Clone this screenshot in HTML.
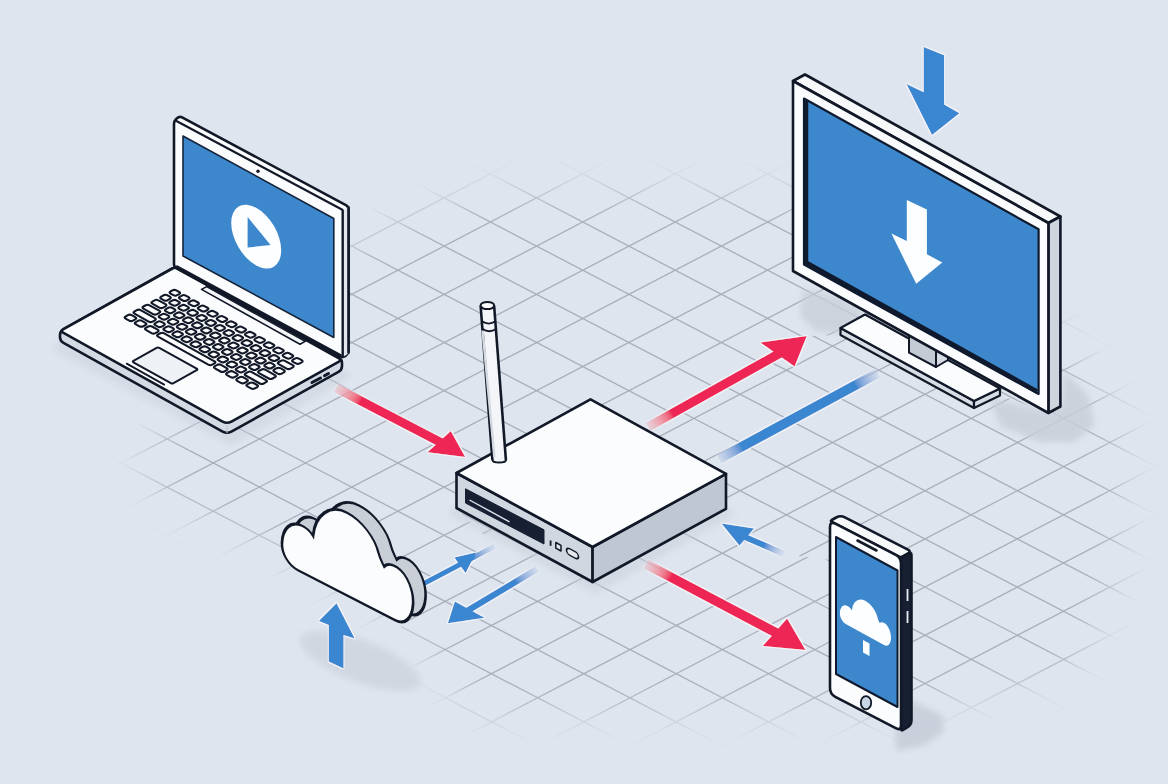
<!DOCTYPE html>
<html><head><meta charset="utf-8"><style>
html,body{margin:0;padding:0;background:#dee5ee;}
svg{display:block;}
</style></head><body>
<svg width="1168" height="784" viewBox="0 0 1168 784">
<defs>
<filter id="mblur" x="-20%" y="-20%" width="140%" height="140%"><feGaussianBlur stdDeviation="18"/></filter>
<mask id="gmask" maskUnits="userSpaceOnUse" x="0" y="0" width="1168" height="784"><rect width="1168" height="784" fill="#000"/><polygon filter="url(#mblur)" fill="#fff" points="140.0,455.0 250.0,345.0 350.0,245.0 420.0,212.0 490.0,192.0 600.0,190.0 790.0,192.0 1060.0,335.0 1125.0,420.0 1122.0,565.0 1075.0,672.0 900.0,712.0 478.0,712.0 428.0,655.0 402.0,625.0 300.0,560.0 160.0,500.0"/></mask>
<filter id="halo" x="-20%" y="-20%" width="140%" height="140%"><feMorphology in="SourceAlpha" operator="dilate" radius="1.3" result="d"/><feGaussianBlur in="d" stdDeviation="0.7" result="b"/><feFlood flood-color="#f6f8fc" flood-opacity="0.85"/><feComposite in2="b" operator="in" result="h"/><feMerge><feMergeNode in="h"/><feMergeNode in="SourceGraphic"/></feMerge></filter>
<filter id="blur6" x="-50%" y="-50%" width="200%" height="200%"><feGaussianBlur stdDeviation="6"/></filter>
<filter id="blur3" x="-50%" y="-50%" width="200%" height="200%"><feGaussianBlur stdDeviation="3"/></filter>
<filter id="blur1" x="-50%" y="-50%" width="200%" height="200%"><feGaussianBlur stdDeviation="1"/></filter>
</defs>
<rect width="1168" height="784" fill="#dee5ee"/>
<clipPath id="cpL"><path clip-rule="evenodd" d="M0,0H1168V784H0ZM646,428L778,354.5L807,336L840,335L974,408L1000,395L1048,413L1060,300L1168,300L1168,784L900,784L900,731L830,694L830,560L783,554L722,525L726,509L726,474ZM456,508L592,582L726,509L722,525L783,554L830,560L830,694L900,731L900,784L190,784L330,690L404,624L423,584L495,546Z"/></clipPath><clipPath id="cpR"><path d="M646,428L778,354.5L807,336L840,335L974,408L1000,395L1048,413L1060,300L1168,300L1168,784L900,784L900,731L830,694L830,560L783,554L722,525L726,509L726,474Z"/></clipPath><clipPath id="cpD"><path d="M456,508L592,582L726,509L722,525L783,554L830,560L830,694L900,731L900,784L190,784L330,690L404,624L423,584L495,546Z"/></clipPath><g mask="url(#gmask)" stroke="#a8aeba" stroke-width="1.3" fill="none"><path clip-path="url(#cpL)" d="M-10,587.6L1178,1207.3M-10,539.4L1178,1159.1M-10,491.2L1178,1110.9M-10,443.0L1178,1062.7M-10,394.8L1178,1014.5M-10,346.6L1178,966.3M-10,298.4L1178,918.1M-10,250.2L1178,869.9M-10,202.0L1178,821.7M-10,153.8L1178,773.5M-10,105.6L1178,725.3M-10,57.4L1178,677.1M-10,9.2L1178,628.9M-10,-39.0L1178,580.7M-10,-87.2L1178,532.5M-10,-135.4L1178,484.3M-10,-183.6L1178,436.1M-10,-231.8L1178,387.9M-10,-280.0L1178,339.7M-10,-328.2L1178,291.5M-10,-376.4L1178,243.3M-10,-424.6L1178,195.1M-10,-472.8L1178,146.9M-10,-521.0L1178,98.7M-10,-569.2L1178,50.5M-10,-617.4L1178,2.3M-10,1.0L1178,-618.7M-10,49.2L1178,-570.5M-10,97.4L1178,-522.3M-10,145.6L1178,-474.1M-10,193.8L1178,-425.9M-10,242.0L1178,-377.7M-10,290.2L1178,-329.5M-10,338.4L1178,-281.3M-10,386.6L1178,-233.1M-10,434.8L1178,-184.9M-10,483.0L1178,-136.7M-10,531.2L1178,-88.5M-10,579.4L1178,-40.3M-10,627.6L1178,7.9M-10,675.8L1178,56.1M-10,724.0L1178,104.3M-10,772.2L1178,152.5M-10,820.4L1178,200.7M-10,868.6L1178,248.9M-10,916.8L1178,297.1M-10,965.0L1178,345.3M-10,1013.2L1178,393.5M-10,1061.4L1178,441.7M-10,1109.6L1178,489.9M-10,1157.8L1178,538.1M-10,1206.0L1178,586.3M-10,1254.2L1178,634.5M-10,1302.4L1178,682.7M-10,1350.6L1178,730.9M-10,1398.8L1178,779.1"/><path clip-path="url(#cpR)" d="M-10,581.4L1178,1201.1M-10,533.2L1178,1152.9M-10,485.0L1178,1104.7M-10,436.8L1178,1056.5M-10,388.6L1178,1008.3M-10,340.4L1178,960.1M-10,292.2L1178,911.9M-10,244.0L1178,863.7M-10,195.8L1178,815.5M-10,147.6L1178,767.3M-10,99.4L1178,719.1M-10,51.2L1178,670.9M-10,3.0L1178,622.7M-10,-45.2L1178,574.5M-10,-93.4L1178,526.3M-10,-141.6L1178,478.1M-10,-189.8L1178,429.9M-10,-238.0L1178,381.7M-10,-286.2L1178,333.5M-10,-334.4L1178,285.3M-10,-382.6L1178,237.1M-10,-430.8L1178,188.9M-10,-479.0L1178,140.7M-10,-527.2L1178,92.5M-10,-575.4L1178,44.3M-10,14.4L1178,-605.3M-10,62.6L1178,-557.1M-10,110.8L1178,-508.9M-10,159.0L1178,-460.7M-10,207.2L1178,-412.5M-10,255.4L1178,-364.3M-10,303.6L1178,-316.1M-10,351.8L1178,-267.9M-10,400.0L1178,-219.7M-10,448.2L1178,-171.5M-10,496.4L1178,-123.3M-10,544.6L1178,-75.1M-10,592.8L1178,-26.9M-10,641.0L1178,21.3M-10,689.2L1178,69.5M-10,737.4L1178,117.7M-10,785.6L1178,165.9M-10,833.8L1178,214.1M-10,882.0L1178,262.3M-10,930.2L1178,310.5M-10,978.4L1178,358.7M-10,1026.6L1178,406.9M-10,1074.8L1178,455.1M-10,1123.0L1178,503.3M-10,1171.2L1178,551.5M-10,1219.4L1178,599.7M-10,1267.6L1178,647.9M-10,1315.8L1178,696.1M-10,1364.0L1178,744.3"/><path clip-path="url(#cpD)" d="M-10,604.9L1178,1224.7M-10,556.7L1178,1176.5M-10,508.5L1178,1128.3M-10,460.3L1178,1080.1M-10,412.1L1178,1031.9M-10,363.9L1178,983.7M-10,315.7L1178,935.5M-10,267.5L1178,887.3M-10,219.3L1178,839.1M-10,171.1L1178,790.9M-10,122.9L1178,742.7M-10,74.7L1178,694.5M-10,26.5L1178,646.3M-10,-21.7L1178,598.1M-10,-69.9L1178,549.9M-10,-118.1L1178,501.7M-10,-166.3L1178,453.5M-10,-214.5L1178,405.3M-10,-262.7L1178,357.1M-10,-310.9L1178,308.9M-10,-359.1L1178,260.7M-10,-407.3L1178,212.5M-10,-455.5L1178,164.3M-10,-503.7L1178,116.1M-10,-551.9L1178,67.9M-10,-600.1L1178,19.7M-10,19.5L1178,-600.3M-10,67.7L1178,-552.1M-10,115.9L1178,-503.9M-10,164.1L1178,-455.7M-10,212.3L1178,-407.5M-10,260.5L1178,-359.3M-10,308.7L1178,-311.1M-10,356.9L1178,-262.9M-10,405.1L1178,-214.7M-10,453.3L1178,-166.5M-10,501.5L1178,-118.3M-10,549.7L1178,-70.1M-10,597.9L1178,-21.9M-10,646.1L1178,26.3M-10,694.3L1178,74.5M-10,742.5L1178,122.7M-10,790.7L1178,170.9M-10,838.9L1178,219.1M-10,887.1L1178,267.3M-10,935.3L1178,315.5M-10,983.5L1178,363.7M-10,1031.7L1178,411.9M-10,1079.9L1178,460.1M-10,1128.1L1178,508.3M-10,1176.3L1178,556.5M-10,1224.5L1178,604.7M-10,1272.7L1178,652.9M-10,1320.9L1178,701.1M-10,1369.1L1178,749.3"/></g>

<g fill="#c9cfda">
<polygon points="803.0,290.0 836.0,296.0 864.0,312.0 842.0,334.0 815.0,331.0 800.0,316.0" fill="#c9cfda" stroke="none" stroke-width="0" stroke-linejoin="round" opacity="0.8" filter="url(#blur3)"/>
<polygon points="990.0,398.0 1050.0,412.0 1062.0,405.0 1064.0,372.0 1088.0,395.0 1094.0,425.0 1075.0,442.0 1040.0,442.0 1000.0,426.0" fill="#c9cfda" stroke="none" stroke-width="0" stroke-linejoin="round" opacity="0.85" filter="url(#blur3)"/>
<ellipse cx="360" cy="661" rx="64" ry="21" transform="rotate(21 360 661)" opacity="0.62" filter="url(#blur3)"/>
<polygon points="910.0,700.0 943.0,716.0 943.0,732.0 925.0,745.0 897.0,751.0 895.0,734.0" fill="#c9cfda" stroke="none" stroke-width="0" stroke-linejoin="round" opacity="0.95" filter="url(#blur3)"/>
<polygon points="456.0,506.0 592.0,580.0 726.0,507.0 736.0,514.0 596.0,594.0 448.0,514.0" fill="#c9cfda" stroke="none" stroke-width="0" stroke-linejoin="round" opacity="0.5" filter="url(#blur3)"/>
<polygon points="60.0,339.0 227.0,432.0 342.0,368.0 352.0,376.0 232.0,446.0 52.0,350.0" fill="#c9cfda" stroke="none" stroke-width="0" stroke-linejoin="round" opacity="0.45" filter="url(#blur3)"/>
</g>
<g filter="url(#halo)">
<linearGradient id="ra1" gradientUnits="userSpaceOnUse" x1="336.0" y1="388.0" x2="360.8" y2="400.9"><stop offset="0" stop-color="#ee2656" stop-opacity="0.2"/><stop offset="1" stop-color="#ee2656"/></linearGradient><polygon points="333.9,392.1 439.7,447.1 443.9,438.9 338.1,383.9" fill="url(#ra1)" stroke="none" stroke-width="0" stroke-linejoin="round" /><polygon points="450.8,431.0 465.2,457.0 427.5,452.2" fill="#ee2656" stroke="none" stroke-width="0" stroke-linejoin="round" />
<linearGradient id="ra2" gradientUnits="userSpaceOnUse" x1="648.0" y1="427.0" x2="672.4" y2="413.3"><stop offset="0" stop-color="#ee2656" stop-opacity="0.2"/><stop offset="1" stop-color="#ee2656"/></linearGradient><polygon points="650.2,431.0 782.3,357.2 777.8,349.1 645.8,423.0" fill="url(#ra2)" stroke="none" stroke-width="0" stroke-linejoin="round" /><polygon points="760.3,342.6 806.8,336.0 794.6,366.6" fill="#ee2656" stroke="none" stroke-width="0" stroke-linejoin="round" />
<linearGradient id="bl1" gradientUnits="userSpaceOnUse" x1="878.0" y1="373.0" x2="719.0" y2="459.0"><stop offset="0" stop-color="#3b86d0" stop-opacity="0.15"/><stop offset="0.144" stop-color="#3b86d0"/><stop offset="0.856" stop-color="#3b86d0"/><stop offset="1" stop-color="#3b86d0" stop-opacity="0.2"/></linearGradient><polygon points="875.7,368.7 716.7,454.7 721.3,463.3 880.3,377.3" fill="url(#bl1)" stroke="none" stroke-width="0" stroke-linejoin="round" />
<linearGradient id="ra3" gradientUnits="userSpaceOnUse" x1="646.0" y1="564.0" x2="670.8" y2="577.1"><stop offset="0" stop-color="#ee2656" stop-opacity="0.2"/><stop offset="1" stop-color="#ee2656"/></linearGradient><polygon points="643.8,568.2 775.3,637.8 779.8,629.3 648.2,559.8" fill="url(#ra3)" stroke="none" stroke-width="0" stroke-linejoin="round" /><polygon points="787.1,618.4 805.5,650.0 762.7,645.9" fill="#ee2656" stroke="none" stroke-width="0" stroke-linejoin="round" />
<linearGradient id="bl2" gradientUnits="userSpaceOnUse" x1="784.0" y1="554.0" x2="738.0" y2="534.0"><stop offset="0" stop-color="#3b86d0" stop-opacity="0.1"/><stop offset="0.439" stop-color="#3b86d0"/><stop offset="0.561" stop-color="#3b86d0"/><stop offset="1" stop-color="#3b86d0" stop-opacity="1"/></linearGradient><polygon points="785.2,551.2 739.2,531.2 736.8,536.8 782.8,556.8" fill="url(#bl2)" stroke="none" stroke-width="0" stroke-linejoin="round" />
<polygon points="721.5,523.5 754.0,528.5 739.5,545.5" fill="#3b86d0" stroke="none" stroke-width="0" stroke-linejoin="round" />
<linearGradient id="bl3" gradientUnits="userSpaceOnUse" x1="423.0" y1="584.0" x2="495.0" y2="546.0"><stop offset="0" stop-color="#3b86d0" stop-opacity="1"/><stop offset="0.307" stop-color="#3b86d0"/><stop offset="0.693" stop-color="#3b86d0"/><stop offset="1" stop-color="#3b86d0" stop-opacity="0.1"/></linearGradient><polygon points="424.2,586.2 496.2,548.2 493.8,543.8 421.8,581.8" fill="url(#bl3)" stroke="none" stroke-width="0" stroke-linejoin="round" />
<polygon points="454.4,557.5 476.0,552.5 465.6,573.0" fill="#3b86d0" stroke="none" stroke-width="0" stroke-linejoin="round" />
<linearGradient id="bl4" gradientUnits="userSpaceOnUse" x1="537.0" y1="569.0" x2="467.0" y2="611.0"><stop offset="0" stop-color="#3b86d0" stop-opacity="0.15"/><stop offset="0.306" stop-color="#3b86d0"/><stop offset="0.694" stop-color="#3b86d0"/><stop offset="1" stop-color="#3b86d0" stop-opacity="1"/></linearGradient><polygon points="535.4,566.3 465.4,608.3 468.6,613.7 538.6,571.7" fill="url(#bl4)" stroke="none" stroke-width="0" stroke-linejoin="round" />
<polygon points="454.9,601.6 447.9,623.3 484.4,617.7" fill="#3b86d0" stroke="none" stroke-width="0" stroke-linejoin="round" />
</g>
<path d="M172.4,268.5L63.5,329.1Q60.0,331.0 60.0,335.0L60.0,337.0Q60.0,341.0 63.5,342.9L222.6,431.6Q227.0,434.0 231.4,431.6L338.5,371.9Q342.0,370.0 342.0,366.0L342.0,363.0Q342.0,360.0 339.4,358.5L177.6,268.5Q175.0,267.0 172.4,268.5Z" fill="#d3dae4" stroke="#111827" stroke-width="2.6" stroke-linejoin="round" /><line x1="227" y1="426" x2="227" y2="433" stroke="#b9c2ce" stroke-width="1"/><path d="M172.4,268.5L63.5,329.1Q60.0,331.0 63.5,332.9L222.6,421.6Q227.0,424.0 231.4,421.6L338.5,361.9Q342.0,360.0 338.5,358.1L177.6,268.5Q175.0,267.0 172.4,268.5Z" fill="#fbfcfd" stroke="#111827" stroke-width="2.6" stroke-linejoin="round" /><path d="M176.3,290.4L179.2,292.0Q181.1,293.1 179.2,294.1L177.2,295.2Q175.3,296.3 173.4,295.2L170.5,293.6Q168.6,292.5 170.5,291.5L172.4,290.4Q174.4,289.3 176.3,290.4Z" fill="#fdfdfe" stroke="#111827" stroke-width="2.1" stroke-linejoin="round" /><path d="M185.7,295.6L188.6,297.2Q190.5,298.3 188.6,299.4L186.7,300.5Q184.7,301.5 182.8,300.5L179.9,298.8Q178.0,297.8 179.9,296.7L181.9,295.6Q183.8,294.5 185.7,295.6Z" fill="#fdfdfe" stroke="#111827" stroke-width="2.1" stroke-linejoin="round" /><path d="M195.1,300.9L198.0,302.5Q199.9,303.6 198.0,304.6L196.1,305.7Q194.2,306.8 192.2,305.7L189.3,304.1Q187.4,303.0 189.3,302.0L191.3,300.9Q193.2,299.8 195.1,300.9Z" fill="#fdfdfe" stroke="#111827" stroke-width="2.1" stroke-linejoin="round" /><path d="M204.5,306.1L207.5,307.7Q209.4,308.8 207.5,309.9L205.5,311.0Q203.6,312.0 201.7,311.0L198.8,309.3Q196.8,308.3 198.8,307.2L200.7,306.1Q202.6,305.0 204.5,306.1Z" fill="#fdfdfe" stroke="#111827" stroke-width="2.1" stroke-linejoin="round" /><path d="M214.0,311.4L216.9,313.0Q218.8,314.1 216.9,315.1L214.9,316.2Q213.0,317.3 211.1,316.2L208.2,314.6Q206.3,313.5 208.2,312.4L210.1,311.4Q212.0,310.3 214.0,311.4Z" fill="#fdfdfe" stroke="#111827" stroke-width="2.1" stroke-linejoin="round" /><path d="M223.4,316.6L226.3,318.2Q228.2,319.3 226.3,320.4L224.3,321.5Q222.4,322.5 220.5,321.5L217.6,319.8Q215.7,318.8 217.6,317.7L219.5,316.6Q221.5,315.5 223.4,316.6Z" fill="#fdfdfe" stroke="#111827" stroke-width="2.1" stroke-linejoin="round" /><path d="M232.8,321.9L235.7,323.5Q237.6,324.5 235.7,325.6L233.8,326.7Q231.9,327.8 229.9,326.7L227.0,325.1Q225.1,324.0 227.0,322.9L229.0,321.9Q230.9,320.8 232.8,321.9Z" fill="#fdfdfe" stroke="#111827" stroke-width="2.1" stroke-linejoin="round" /><path d="M242.2,327.1L245.1,328.7Q247.1,329.8 245.1,330.9L243.2,332.0Q241.3,333.0 239.4,332.0L236.4,330.3Q234.5,329.3 236.4,328.2L238.4,327.1Q240.3,326.0 242.2,327.1Z" fill="#fdfdfe" stroke="#111827" stroke-width="2.1" stroke-linejoin="round" /><path d="M251.7,332.4L254.6,334.0Q256.5,335.0 254.6,336.1L252.6,337.2Q250.7,338.3 248.8,337.2L245.9,335.6Q243.9,334.5 245.9,333.4L247.8,332.4Q249.7,331.3 251.7,332.4Z" fill="#fdfdfe" stroke="#111827" stroke-width="2.1" stroke-linejoin="round" /><path d="M261.1,337.6L264.0,339.2Q265.9,340.3 264.0,341.4L262.0,342.4Q260.1,343.5 258.2,342.4L255.3,340.8Q253.4,339.8 255.3,338.7L257.2,337.6Q259.2,336.5 261.1,337.6Z" fill="#fdfdfe" stroke="#111827" stroke-width="2.1" stroke-linejoin="round" /><path d="M270.5,342.9L273.4,344.5Q275.3,345.5 273.4,346.6L271.5,347.7Q269.5,348.8 267.6,347.7L264.7,346.1Q262.8,345.0 264.7,343.9L266.7,342.9Q268.6,341.8 270.5,342.9Z" fill="#fdfdfe" stroke="#111827" stroke-width="2.1" stroke-linejoin="round" /><path d="M279.9,348.1L282.8,349.7Q284.8,350.8 282.8,351.9L280.9,352.9Q279.0,354.0 277.0,352.9L274.1,351.3Q272.2,350.3 274.1,349.2L276.1,348.1Q278.0,347.0 279.9,348.1Z" fill="#fdfdfe" stroke="#111827" stroke-width="2.1" stroke-linejoin="round" /><path d="M289.4,353.3L292.3,355.0Q294.2,356.0 292.3,357.1L290.3,358.2Q288.4,359.3 286.5,358.2L283.6,356.6Q281.6,355.5 283.6,354.4L285.5,353.3Q287.4,352.3 289.4,353.3Z" fill="#fdfdfe" stroke="#111827" stroke-width="2.1" stroke-linejoin="round" /><path d="M298.8,358.6L301.7,360.2Q303.6,361.3 301.7,362.4L299.7,363.4Q297.8,364.5 295.9,363.4L293.0,361.8Q291.1,360.7 293.0,359.7L294.9,358.6Q296.9,357.5 298.8,358.6Z" fill="#fdfdfe" stroke="#111827" stroke-width="2.1" stroke-linejoin="round" /><path d="M167.4,295.3L169.9,296.7Q171.8,297.8 169.9,298.9L167.6,300.2Q165.7,301.2 163.7,300.2L161.2,298.8Q159.3,297.7 161.2,296.6L163.5,295.3Q165.4,294.3 167.4,295.3Z" fill="#fdfdfe" stroke="#111827" stroke-width="2.1" stroke-linejoin="round" /><path d="M176.4,300.4L178.9,301.8Q180.8,302.8 178.9,303.9L176.6,305.2Q174.7,306.3 172.8,305.2L170.2,303.8Q168.3,302.7 170.2,301.6L172.6,300.4Q174.5,299.3 176.4,300.4Z" fill="#fdfdfe" stroke="#111827" stroke-width="2.1" stroke-linejoin="round" /><path d="M185.4,305.4L188.0,306.8Q189.9,307.9 188.0,308.9L185.6,310.2Q183.7,311.3 181.8,310.2L179.3,308.8Q177.4,307.8 179.3,306.7L181.6,305.4Q183.5,304.3 185.4,305.4Z" fill="#fdfdfe" stroke="#111827" stroke-width="2.1" stroke-linejoin="round" /><path d="M194.5,310.4L197.0,311.8Q198.9,312.9 197.0,314.0L194.7,315.3Q192.8,316.3 190.8,315.3L188.3,313.9Q186.4,312.8 188.3,311.7L190.6,310.4Q192.5,309.4 194.5,310.4Z" fill="#fdfdfe" stroke="#111827" stroke-width="2.1" stroke-linejoin="round" /><path d="M203.5,315.5L206.0,316.9Q207.9,317.9 206.0,319.0L203.7,320.3Q201.8,321.4 199.9,320.3L197.4,318.9Q195.4,317.8 197.4,316.7L199.7,315.5Q201.6,314.4 203.5,315.5Z" fill="#fdfdfe" stroke="#111827" stroke-width="2.1" stroke-linejoin="round" /><path d="M212.5,320.5L215.1,321.9Q217.0,323.0 215.1,324.0L212.8,325.3Q210.8,326.4 208.9,325.3L206.4,323.9Q204.5,322.8 206.4,321.8L208.7,320.5Q210.6,319.4 212.5,320.5Z" fill="#fdfdfe" stroke="#111827" stroke-width="2.1" stroke-linejoin="round" /><path d="M221.6,325.5L224.1,326.9Q226.0,328.0 224.1,329.1L221.8,330.4Q219.9,331.4 217.9,330.4L215.4,328.9Q213.5,327.9 215.4,326.8L217.7,325.5Q219.7,324.5 221.6,325.5Z" fill="#fdfdfe" stroke="#111827" stroke-width="2.1" stroke-linejoin="round" /><path d="M230.6,330.6L233.1,332.0Q235.1,333.0 233.1,334.1L230.8,335.4Q228.9,336.5 227.0,335.4L224.5,334.0Q222.5,332.9 224.5,331.8L226.8,330.6Q228.7,329.5 230.6,330.6Z" fill="#fdfdfe" stroke="#111827" stroke-width="2.1" stroke-linejoin="round" /><path d="M239.7,335.6L242.2,337.0Q244.1,338.1 242.2,339.1L239.9,340.4Q237.9,341.5 236.0,340.4L233.5,339.0Q231.6,337.9 233.5,336.9L235.8,335.6Q237.7,334.5 239.7,335.6Z" fill="#fdfdfe" stroke="#111827" stroke-width="2.1" stroke-linejoin="round" /><path d="M248.7,340.6L251.2,342.0Q253.1,343.1 251.2,344.2L248.9,345.5Q247.0,346.5 245.1,345.4L242.5,344.0Q240.6,343.0 242.5,341.9L244.8,340.6Q246.8,339.6 248.7,340.6Z" fill="#fdfdfe" stroke="#111827" stroke-width="2.1" stroke-linejoin="round" /><path d="M257.7,345.7L260.2,347.1Q262.2,348.1 260.2,349.2L257.9,350.5Q256.0,351.6 254.1,350.5L251.6,349.1Q249.6,348.0 251.6,346.9L253.9,345.7Q255.8,344.6 257.7,345.7Z" fill="#fdfdfe" stroke="#111827" stroke-width="2.1" stroke-linejoin="round" /><path d="M266.8,350.7L269.3,352.1Q271.2,353.2 269.3,354.2L267.0,355.5Q265.0,356.6 263.1,355.5L260.6,354.1Q258.7,353.0 260.6,352.0L262.9,350.7Q264.8,349.6 266.8,350.7Z" fill="#fdfdfe" stroke="#111827" stroke-width="2.1" stroke-linejoin="round" /><path d="M275.8,355.7L278.3,357.1Q280.2,358.2 278.3,359.3L276.0,360.5Q274.1,361.6 272.2,360.5L269.6,359.1Q267.7,358.1 269.6,357.0L272.0,355.7Q273.9,354.6 275.8,355.7Z" fill="#fdfdfe" stroke="#111827" stroke-width="2.1" stroke-linejoin="round" /><path d="M284.8,360.8L292.8,365.2Q294.7,366.2 292.8,367.3L290.5,368.6Q288.5,369.7 286.6,368.6L278.7,364.2Q276.8,363.1 278.7,362.0L281.0,360.8Q282.9,359.7 284.8,360.8Z" fill="#fdfdfe" stroke="#111827" stroke-width="2.1" stroke-linejoin="round" /><path d="M158.4,300.3L165.5,304.2Q167.4,305.3 165.5,306.4L163.2,307.6Q161.3,308.7 159.3,307.6L152.3,303.7Q150.4,302.6 152.3,301.6L154.6,300.3Q156.5,299.2 158.4,300.3Z" fill="#fdfdfe" stroke="#111827" stroke-width="2.1" stroke-linejoin="round" /><path d="M172.0,307.8L174.5,309.2Q176.4,310.3 174.5,311.4L172.2,312.7Q170.3,313.7 168.4,312.7L165.9,311.3Q163.9,310.2 165.9,309.1L168.2,307.8Q170.1,306.8 172.0,307.8Z" fill="#fdfdfe" stroke="#111827" stroke-width="2.1" stroke-linejoin="round" /><path d="M181.0,312.9L183.6,314.3Q185.5,315.3 183.6,316.4L181.3,317.7Q179.3,318.8 177.4,317.7L174.9,316.3Q173.0,315.2 174.9,314.2L177.2,312.9Q179.1,311.8 181.0,312.9Z" fill="#fdfdfe" stroke="#111827" stroke-width="2.1" stroke-linejoin="round" /><path d="M190.1,317.9L192.6,319.3Q194.5,320.4 192.6,321.4L190.3,322.7Q188.4,323.8 186.4,322.7L183.9,321.3Q182.0,320.3 183.9,319.2L186.2,317.9Q188.2,316.8 190.1,317.9Z" fill="#fdfdfe" stroke="#111827" stroke-width="2.1" stroke-linejoin="round" /><path d="M199.1,322.9L201.6,324.3Q203.6,325.4 201.6,326.5L199.3,327.8Q197.4,328.8 195.5,327.8L193.0,326.4Q191.0,325.3 193.0,324.2L195.3,322.9Q197.2,321.9 199.1,322.9Z" fill="#fdfdfe" stroke="#111827" stroke-width="2.1" stroke-linejoin="round" /><path d="M208.1,328.0L210.7,329.4Q212.6,330.4 210.7,331.5L208.4,332.8Q206.4,333.9 204.5,332.8L202.0,331.4Q200.1,330.3 202.0,329.3L204.3,328.0Q206.2,326.9 208.1,328.0Z" fill="#fdfdfe" stroke="#111827" stroke-width="2.1" stroke-linejoin="round" /><path d="M217.2,333.0L219.7,334.4Q221.6,335.5 219.7,336.5L217.4,337.8Q215.5,338.9 213.6,337.8L211.0,336.4Q209.1,335.4 211.0,334.3L213.3,333.0Q215.3,331.9 217.2,333.0Z" fill="#fdfdfe" stroke="#111827" stroke-width="2.1" stroke-linejoin="round" /><path d="M226.2,338.0L228.7,339.4Q230.7,340.5 228.7,341.6L226.4,342.9Q224.5,343.9 222.6,342.9L220.1,341.5Q218.1,340.4 220.1,339.3L222.4,338.0Q224.3,337.0 226.2,338.0Z" fill="#fdfdfe" stroke="#111827" stroke-width="2.1" stroke-linejoin="round" /><path d="M235.3,343.1L237.8,344.5Q239.7,345.5 237.8,346.6L235.5,347.9Q233.5,349.0 231.6,347.9L229.1,346.5Q227.2,345.4 229.1,344.3L231.4,343.1Q233.3,342.0 235.3,343.1Z" fill="#fdfdfe" stroke="#111827" stroke-width="2.1" stroke-linejoin="round" /><path d="M244.3,348.1L246.8,349.5Q248.7,350.6 246.8,351.6L244.5,352.9Q242.6,354.0 240.7,352.9L238.1,351.5Q236.2,350.5 238.1,349.4L240.4,348.1Q242.4,347.0 244.3,348.1Z" fill="#fdfdfe" stroke="#111827" stroke-width="2.1" stroke-linejoin="round" /><path d="M253.3,353.1L255.8,354.5Q257.8,355.6 255.8,356.7L253.5,358.0Q251.6,359.0 249.7,358.0L247.2,356.6Q245.3,355.5 247.2,354.4L249.5,353.1Q251.4,352.1 253.3,353.1Z" fill="#fdfdfe" stroke="#111827" stroke-width="2.1" stroke-linejoin="round" /><path d="M262.4,358.2L264.9,359.6Q266.8,360.6 264.9,361.7L262.6,363.0Q260.7,364.1 258.7,363.0L256.2,361.6Q254.3,360.5 256.2,359.4L258.5,358.2Q260.4,357.1 262.4,358.2Z" fill="#fdfdfe" stroke="#111827" stroke-width="2.1" stroke-linejoin="round" /><path d="M271.4,363.2L273.9,364.6Q275.8,365.7 273.9,366.7L271.6,368.0Q269.7,369.1 267.8,368.0L265.2,366.6Q263.3,365.5 265.2,364.5L267.6,363.2Q269.5,362.1 271.4,363.2Z" fill="#fdfdfe" stroke="#111827" stroke-width="2.1" stroke-linejoin="round" /><path d="M280.4,368.2L283.9,370.1Q285.8,371.2 283.9,372.3L281.6,373.6Q279.6,374.6 277.7,373.6L274.3,371.7Q272.4,370.6 274.3,369.5L276.6,368.2Q278.5,367.2 280.4,368.2Z" fill="#fdfdfe" stroke="#111827" stroke-width="2.1" stroke-linejoin="round" /><path d="M149.5,305.3L159.3,310.7Q161.2,311.8 159.3,312.8L157.0,314.1Q155.1,315.2 153.1,314.1L143.4,308.7Q141.5,307.6 143.4,306.5L145.7,305.3Q147.6,304.2 149.5,305.3Z" fill="#fdfdfe" stroke="#111827" stroke-width="2.1" stroke-linejoin="round" /><path d="M165.8,314.3L168.3,315.7Q170.2,316.8 168.3,317.9L166.0,319.1Q164.1,320.2 162.2,319.1L159.6,317.7Q157.7,316.7 159.6,315.6L162.0,314.3Q163.9,313.2 165.8,314.3Z" fill="#fdfdfe" stroke="#111827" stroke-width="2.1" stroke-linejoin="round" /><path d="M174.8,319.3L177.4,320.7Q179.3,321.8 177.4,322.9L175.0,324.2Q173.1,325.2 171.2,324.2L168.7,322.8Q166.8,321.7 168.7,320.6L171.0,319.3Q172.9,318.3 174.8,319.3Z" fill="#fdfdfe" stroke="#111827" stroke-width="2.1" stroke-linejoin="round" /><path d="M183.9,324.4L186.4,325.8Q188.3,326.8 186.4,327.9L184.1,329.2Q182.2,330.3 180.2,329.2L177.7,327.8Q175.8,326.7 177.7,325.7L180.0,324.4Q182.0,323.3 183.9,324.4Z" fill="#fdfdfe" stroke="#111827" stroke-width="2.1" stroke-linejoin="round" /><path d="M192.9,329.4L195.4,330.8Q197.4,331.9 195.4,333.0L193.1,334.2Q191.2,335.3 189.3,334.2L186.8,332.8Q184.8,331.8 186.8,330.7L189.1,329.4Q191.0,328.3 192.9,329.4Z" fill="#fdfdfe" stroke="#111827" stroke-width="2.1" stroke-linejoin="round" /><path d="M201.9,334.4L204.5,335.8Q206.4,336.9 204.5,338.0L202.2,339.3Q200.2,340.3 198.3,339.3L195.8,337.9Q193.9,336.8 195.8,335.7L198.1,334.4Q200.0,333.4 201.9,334.4Z" fill="#fdfdfe" stroke="#111827" stroke-width="2.1" stroke-linejoin="round" /><path d="M211.0,339.5L213.5,340.9Q215.4,341.9 213.5,343.0L211.2,344.3Q209.3,345.4 207.4,344.3L204.8,342.9Q202.9,341.8 204.8,340.8L207.1,339.5Q209.1,338.4 211.0,339.5Z" fill="#fdfdfe" stroke="#111827" stroke-width="2.1" stroke-linejoin="round" /><path d="M220.0,344.5L222.5,345.9Q224.5,347.0 222.5,348.0L220.2,349.3Q218.3,350.4 216.4,349.3L213.9,347.9Q211.9,346.9 213.9,345.8L216.2,344.5Q218.1,343.4 220.0,344.5Z" fill="#fdfdfe" stroke="#111827" stroke-width="2.1" stroke-linejoin="round" /><path d="M229.1,349.5L231.6,350.9Q233.5,352.0 231.6,353.1L229.3,354.4Q227.3,355.4 225.4,354.4L222.9,353.0Q221.0,351.9 222.9,350.8L225.2,349.5Q227.1,348.5 229.1,349.5Z" fill="#fdfdfe" stroke="#111827" stroke-width="2.1" stroke-linejoin="round" /><path d="M238.1,354.6L240.6,356.0Q242.5,357.0 240.6,358.1L238.3,359.4Q236.4,360.5 234.5,359.4L231.9,358.0Q230.0,356.9 231.9,355.9L234.2,354.6Q236.2,353.5 238.1,354.6Z" fill="#fdfdfe" stroke="#111827" stroke-width="2.1" stroke-linejoin="round" /><path d="M247.1,359.6L249.6,361.0Q251.6,362.1 249.6,363.1L247.3,364.4Q245.4,365.5 243.5,364.4L241.0,363.0Q239.1,362.0 241.0,360.9L243.3,359.6Q245.2,358.5 247.1,359.6Z" fill="#fdfdfe" stroke="#111827" stroke-width="2.1" stroke-linejoin="round" /><path d="M256.2,364.6L258.7,366.0Q260.6,367.1 258.7,368.2L256.4,369.5Q254.5,370.5 252.5,369.5L250.0,368.1Q248.1,367.0 250.0,365.9L252.3,364.6Q254.2,363.6 256.2,364.6Z" fill="#fdfdfe" stroke="#111827" stroke-width="2.1" stroke-linejoin="round" /><path d="M265.2,369.7L274.9,375.1Q276.9,376.2 274.9,377.2L272.6,378.5Q270.7,379.6 268.8,378.5L259.0,373.1Q257.1,372.0 259.0,370.9L261.4,369.7Q263.3,368.6 265.2,369.7Z" fill="#fdfdfe" stroke="#111827" stroke-width="2.1" stroke-linejoin="round" /><path d="M140.6,310.2L154.9,318.2Q156.8,319.2 154.9,320.3L152.6,321.6Q150.7,322.7 148.7,321.6L134.5,313.6Q132.5,312.6 134.5,311.5L136.8,310.2Q138.7,309.1 140.6,310.2Z" fill="#fdfdfe" stroke="#111827" stroke-width="2.1" stroke-linejoin="round" /><path d="M161.4,321.8L163.9,323.2Q165.8,324.3 163.9,325.3L161.6,326.6Q159.7,327.7 157.8,326.6L155.3,325.2Q153.3,324.1 155.3,323.1L157.6,321.8Q159.5,320.7 161.4,321.8Z" fill="#fdfdfe" stroke="#111827" stroke-width="2.1" stroke-linejoin="round" /><path d="M170.4,326.8L173.0,328.2Q174.9,329.3 173.0,330.4L170.7,331.6Q168.7,332.7 166.8,331.6L164.3,330.2Q162.4,329.2 164.3,328.1L166.6,326.8Q168.5,325.7 170.4,326.8Z" fill="#fdfdfe" stroke="#111827" stroke-width="2.1" stroke-linejoin="round" /><path d="M179.5,331.9L182.0,333.3Q183.9,334.3 182.0,335.4L179.7,336.7Q177.8,337.7 175.8,336.7L173.3,335.3Q171.4,334.2 173.3,333.1L175.6,331.9Q177.6,330.8 179.5,331.9Z" fill="#fdfdfe" stroke="#111827" stroke-width="2.1" stroke-linejoin="round" /><path d="M188.5,336.9L191.0,338.3Q193.0,339.4 191.0,340.4L188.7,341.7Q186.8,342.8 184.9,341.7L182.4,340.3Q180.4,339.2 182.4,338.2L184.7,336.9Q186.6,335.8 188.5,336.9Z" fill="#fdfdfe" stroke="#111827" stroke-width="2.1" stroke-linejoin="round" /><path d="M197.6,341.9L200.1,343.3Q202.0,344.4 200.1,345.5L197.8,346.7Q195.8,347.8 193.9,346.7L191.4,345.3Q189.5,344.3 191.4,343.2L193.7,341.9Q195.6,340.8 197.6,341.9Z" fill="#fdfdfe" stroke="#111827" stroke-width="2.1" stroke-linejoin="round" /><path d="M206.6,346.9L209.1,348.4Q211.0,349.4 209.1,350.5L206.8,351.8Q204.9,352.8 203.0,351.8L200.4,350.4Q198.5,349.3 200.4,348.2L202.7,346.9Q204.7,345.9 206.6,346.9Z" fill="#fdfdfe" stroke="#111827" stroke-width="2.1" stroke-linejoin="round" /><path d="M215.6,352.0L218.1,353.4Q220.1,354.5 218.1,355.5L215.8,356.8Q213.9,357.9 212.0,356.8L209.5,355.4Q207.5,354.3 209.5,353.3L211.8,352.0Q213.7,350.9 215.6,352.0Z" fill="#fdfdfe" stroke="#111827" stroke-width="2.1" stroke-linejoin="round" /><path d="M224.7,357.0L227.2,358.4Q229.1,359.5 227.2,360.6L224.9,361.8Q223.0,362.9 221.0,361.8L218.5,360.4Q216.6,359.4 218.5,358.3L220.8,357.0Q222.7,355.9 224.7,357.0Z" fill="#fdfdfe" stroke="#111827" stroke-width="2.1" stroke-linejoin="round" /><path d="M233.7,362.0L236.2,363.4Q238.1,364.5 236.2,365.6L233.9,366.9Q232.0,367.9 230.1,366.9L227.5,365.5Q225.6,364.4 227.5,363.3L229.9,362.0Q231.8,361.0 233.7,362.0Z" fill="#fdfdfe" stroke="#111827" stroke-width="2.1" stroke-linejoin="round" /><path d="M242.7,367.1L245.3,368.5Q247.2,369.5 245.3,370.6L242.9,371.9Q241.0,373.0 239.1,371.9L236.6,370.5Q234.7,369.4 236.6,368.4L238.9,367.1Q240.8,366.0 242.7,367.1Z" fill="#fdfdfe" stroke="#111827" stroke-width="2.1" stroke-linejoin="round" /><path d="M251.8,372.1L266.0,380.1Q268.0,381.1 266.0,382.2L263.7,383.5Q261.8,384.5 259.9,383.5L245.6,375.5Q243.7,374.5 245.6,373.4L247.9,372.1Q249.8,371.0 251.8,372.1Z" fill="#fdfdfe" stroke="#111827" stroke-width="2.1" stroke-linejoin="round" /><path d="M131.7,315.2L135.3,317.2Q137.3,318.3 135.3,319.3L133.0,320.6Q131.1,321.7 129.2,320.6L125.6,318.6Q123.6,317.5 125.6,316.5L127.9,315.2Q129.8,314.1 131.7,315.2Z" fill="#fdfdfe" stroke="#111827" stroke-width="2.1" stroke-linejoin="round" /><path d="M141.9,320.8L145.5,322.8Q147.4,323.9 145.5,325.0L143.2,326.3Q141.3,327.3 139.3,326.3L135.7,324.2Q133.8,323.2 135.7,322.1L138.0,320.8Q139.9,319.8 141.9,320.8Z" fill="#fdfdfe" stroke="#111827" stroke-width="2.1" stroke-linejoin="round" /><path d="M152.0,326.5L157.7,329.6Q159.6,330.7 157.7,331.8L155.4,333.1Q153.4,334.1 151.5,333.1L145.9,329.9Q143.9,328.8 145.9,327.8L148.2,326.5Q150.1,325.4 152.0,326.5Z" fill="#fdfdfe" stroke="#111827" stroke-width="2.1" stroke-linejoin="round" /><path d="M164.2,333.3L214.5,361.3Q216.4,362.3 214.5,363.4L212.2,364.7Q210.3,365.8 208.3,364.7L158.0,336.7Q156.1,335.6 158.0,334.5L160.3,333.3Q162.3,332.2 164.2,333.3Z" fill="#fdfdfe" stroke="#111827" stroke-width="2.1" stroke-linejoin="round" /><path d="M221.0,364.9L226.7,368.1Q228.6,369.1 226.7,370.2L224.4,371.5Q222.4,372.6 220.5,371.5L214.9,368.3Q212.9,367.3 214.9,366.2L217.2,364.9Q219.1,363.8 221.0,364.9Z" fill="#fdfdfe" stroke="#111827" stroke-width="2.1" stroke-linejoin="round" /><path d="M233.2,371.7L236.8,373.7Q238.7,374.8 236.8,375.9L234.5,377.1Q232.6,378.2 230.7,377.1L227.0,375.1Q225.1,374.0 227.0,373.0L229.4,371.7Q231.3,370.6 233.2,371.7Z" fill="#fdfdfe" stroke="#111827" stroke-width="2.1" stroke-linejoin="round" /><path d="M243.3,377.3L247.0,379.4Q248.9,380.4 247.0,381.5L244.7,382.8Q242.7,383.9 240.8,382.8L237.2,380.8Q235.3,379.7 237.2,378.6L239.5,377.3Q241.4,376.3 243.3,377.3Z" fill="#fdfdfe" stroke="#111827" stroke-width="2.1" stroke-linejoin="round" /><path d="M253.5,383.0L257.1,385.0Q259.0,386.1 257.1,387.2L254.8,388.4Q252.9,389.5 251.0,388.4L247.3,386.4Q245.4,385.3 247.3,384.3L249.6,383.0Q251.6,381.9 253.5,383.0Z" fill="#fdfdfe" stroke="#111827" stroke-width="2.1" stroke-linejoin="round" /><path d="M159.3,347.9L196.7,368.7Q198.0,369.5 196.7,370.2L173.5,383.1Q172.2,383.9 170.9,383.1L133.4,362.3Q132.1,361.5 133.4,360.8L156.6,347.9Q158.0,347.1 159.3,347.9Z" fill="#eef1f5" stroke="#111827" stroke-width="2" stroke-linejoin="round" /><polyline points="126.7,363.6 164.2,384.6" fill="none" stroke="#111827" stroke-width="1.8" stroke-linecap="round"/><polygon points="206.7,286.6 305.2,341.4 300.0,344.3 201.5,289.4" fill="#f4f6f9" stroke="#111827" stroke-width="1.6" stroke-linejoin="round" /><line x1="312" y1="382.5" x2="320.5" y2="378" stroke="#111827" stroke-width="3" stroke-linecap="round"/><line x1="324.5" y1="375.8" x2="328.5" y2="373.5" stroke="#111827" stroke-width="3" stroke-linecap="round"/><path d="M176.2,119.0L177.3,118.0Q179.5,116.0 182.1,117.4L345.9,205.1Q348.5,206.5 348.5,209.5L348.5,350.5Q348.5,353.5 346.1,355.3L344.6,356.3Q343.0,357.5 341.2,356.6L176.6,268.4Q174.0,267.0 174.0,264.0L174.0,124.0Q174.0,121.0 176.2,119.0Z" fill="#fbfcfd" stroke="#111827" stroke-width="2.6" stroke-linejoin="round" /><polyline points="175.5,120.5 342.8,210.0 342.8,357.0" fill="none" stroke="#111827" stroke-width="2.2" stroke-linejoin="round"/><polygon points="342.8,210.0 348.5,207.0 348.5,353.5 342.8,357.0" fill="#e3e7ed" stroke="none" stroke-width="0" stroke-linejoin="round" /><polyline points="342.8,210.0 342.8,357.0" fill="none" stroke="#111827" stroke-width="2.2"/><polyline points="348.5,206.5 348.5,353.5" fill="none" stroke="#111827" stroke-width="2.6"/><polygon points="183.0,136.0 333.8,218.5 333.8,337.5 183.0,256.0" fill="#3d88cc" stroke="#14233a" stroke-width="1.6" stroke-linejoin="round" /><line x1="176" y1="266.5" x2="341" y2="356" stroke="#111827" stroke-width="3.2"/><circle cx="258" cy="171.3" r="1.7" fill="#111827"/><g transform="matrix(1 0.546 0 1.153 256.2 236.6)"><circle r="25" fill="#fdfeff"/></g><polygon points="247.6,217.0 247.6,247.6 270.5,245.0" fill="#3d88cc" stroke="none" stroke-width="0" stroke-linejoin="round" />
<polygon points="456.5,473.0 592.6,547.0 592.6,582.0 456.5,508.0" fill="#d0d7e0" stroke="#111827" stroke-width="2.6" stroke-linejoin="round" /><polygon points="592.6,547.0 726.0,473.8 726.0,508.8 592.6,582.0" fill="#bfc8d2" stroke="#111827" stroke-width="2.6" stroke-linejoin="round" /><polygon points="456.5,473.0 590.5,399.3 726.0,473.8 592.6,547.0" fill="#fbfcfd" stroke="#111827" stroke-width="2.6" stroke-linejoin="round" /><polygon points="465.5,488.8 544.0,529.8 544.0,544.0 465.5,503.0" fill="#172033" stroke="#172033" stroke-width="1" stroke-linejoin="round" /><line x1="469.5" y1="500" x2="509.5" y2="521.8" stroke="#dfe5ee" stroke-width="1.4"/><line x1="550.6" y1="540.5" x2="550.6" y2="545.8" stroke="#111827" stroke-width="1.8"/><polygon points="555.8,542.5 561.0,545.4 561.0,551.0 555.8,548.1" fill="#e4e8ee" stroke="#111827" stroke-width="1.5" stroke-linejoin="round" /><g transform="matrix(1 0.54 0 1 572.5 553.5)"><rect x="-6" y="-3.2" width="12" height="6.4" rx="3.2" fill="#e4e8ee" stroke="#111827" stroke-width="1.6"/></g><g><polygon points="480.6,305.5 494.1,305.5 505.9,460.0 492.4,460.0" fill="#f3f5f8" stroke="none" stroke-width="0" stroke-linejoin="round" /><ellipse cx="499.2" cy="460" rx="6.75" ry="2.6" fill="#f3f5f8" stroke="#111827" stroke-width="2"/><polygon points="480.6,305.5 494.1,305.5 505.9,460.0 492.4,460.0" fill="#f3f5f8" stroke="none" stroke-width="0" stroke-linejoin="round" /><line x1="480.6" y1="305.5" x2="492.4" y2="460" stroke="#111827" stroke-width="2.6"/><line x1="494.1" y1="305.5" x2="505.9" y2="460" stroke="#111827" stroke-width="2.6"/><line x1="482.6" y1="330.5" x2="494.4" y2="457" stroke="#d5dae2" stroke-width="2.5"/><path d="M482.0,321.3 Q488.7,325.8 495.5,321.3" fill="none" stroke="#111827" stroke-width="1.8"/><path d="M482.6,329.0 Q489.3,333.5 496.1,329.0" fill="none" stroke="#111827" stroke-width="1.8"/><ellipse cx="487.4" cy="305.5" rx="6.75" ry="3.6" fill="#fdfeff" stroke="#111827" stroke-width="2"/></g>
<polygon points="840.5,328.0 974.0,401.0 974.0,408.0 840.5,335.0" fill="#d8dde5" stroke="#111827" stroke-width="2.2" stroke-linejoin="round" /><polygon points="974.0,401.0 1000.0,388.5 1000.0,395.5 974.0,408.0" fill="#d8dde5" stroke="#111827" stroke-width="2.2" stroke-linejoin="round" /><polygon points="840.5,328.0 865.0,314.5 1000.0,388.5 974.0,401.0" fill="#fbfcfd" stroke="#111827" stroke-width="2.2" stroke-linejoin="round" /><polygon points="909.0,330.0 936.0,345.0 936.0,367.0 909.0,352.7" fill="#c5cbd4" stroke="#111827" stroke-width="2" stroke-linejoin="round" /><polygon points="936.0,345.0 948.0,338.0 948.0,360.0 936.0,367.0" fill="#d7dce4" stroke="#111827" stroke-width="2" stroke-linejoin="round" /><polygon points="793.0,81.0 805.0,74.5 1060.4,216.5 1048.4,223.0" fill="#f7f8fa" stroke="#111827" stroke-width="2.6" stroke-linejoin="round" /><polygon points="1048.4,223.0 1060.4,216.5 1060.4,406.5 1048.4,413.0" fill="#cfd5de" stroke="#111827" stroke-width="2.6" stroke-linejoin="round" /><polygon points="793.0,81.0 1048.4,223.0 1048.4,413.0 793.0,271.0" fill="#fbfcfd" stroke="#111827" stroke-width="2.6" stroke-linejoin="round" /><polygon points="804.0,98.5 1038.6,229.3 1038.6,394.0 804.0,264.5" fill="#3d88cc" stroke="#0f1a2e" stroke-width="2.2" stroke-linejoin="round" /><polyline points="806.0,100.5 806.0,262.5 1037.0,391.5" fill="none" stroke="#0f1a2e" stroke-width="4.5"/><polygon points="906.8,200.0 926.9,209.4 926.9,254.3 942.3,262.4 916.2,283.8 891.4,233.6 906.8,240.9" fill="#fdfeff" stroke="none" stroke-width="0" stroke-linejoin="round" />
<polygon points="923.7,47.0 944.1,55.3 944.1,104.4 959.4,113.3 932.0,135.0 906.5,84.0 923.7,92.3" fill="#3b86d0" stroke="none" stroke-width="0" stroke-linejoin="round" filter="url(#halo)"/>
<g transform="translate(12.50 -7.00)"><path transform="matrix(1 0.52 0 1 283 541.4)" d="M15,21 C5,21 -1.5,12 -1,2 C-0.5,-12 7,-24.5 18,-25.5 C23.5,-26 27.5,-24 30,-21 C32,-44 47,-62 64,-62 C79,-62 92,-51 95.5,-38 C97,-33 99.5,-30 101,-27.5 C104,-32 109,-34 114,-33.5 C125,-32 131,-17 130,-4 C129,10 122,20.5 112,20.5 Z" fill="#c9ced7"/></g><g transform="translate(11.61 -6.50)"><path transform="matrix(1 0.52 0 1 283 541.4)" d="M15,21 C5,21 -1.5,12 -1,2 C-0.5,-12 7,-24.5 18,-25.5 C23.5,-26 27.5,-24 30,-21 C32,-44 47,-62 64,-62 C79,-62 92,-51 95.5,-38 C97,-33 99.5,-30 101,-27.5 C104,-32 109,-34 114,-33.5 C125,-32 131,-17 130,-4 C129,10 122,20.5 112,20.5 Z" fill="#c9ced7"/></g><g transform="translate(10.71 -6.00)"><path transform="matrix(1 0.52 0 1 283 541.4)" d="M15,21 C5,21 -1.5,12 -1,2 C-0.5,-12 7,-24.5 18,-25.5 C23.5,-26 27.5,-24 30,-21 C32,-44 47,-62 64,-62 C79,-62 92,-51 95.5,-38 C97,-33 99.5,-30 101,-27.5 C104,-32 109,-34 114,-33.5 C125,-32 131,-17 130,-4 C129,10 122,20.5 112,20.5 Z" fill="#c9ced7"/></g><g transform="translate(9.82 -5.50)"><path transform="matrix(1 0.52 0 1 283 541.4)" d="M15,21 C5,21 -1.5,12 -1,2 C-0.5,-12 7,-24.5 18,-25.5 C23.5,-26 27.5,-24 30,-21 C32,-44 47,-62 64,-62 C79,-62 92,-51 95.5,-38 C97,-33 99.5,-30 101,-27.5 C104,-32 109,-34 114,-33.5 C125,-32 131,-17 130,-4 C129,10 122,20.5 112,20.5 Z" fill="#c9ced7"/></g><g transform="translate(8.93 -5.00)"><path transform="matrix(1 0.52 0 1 283 541.4)" d="M15,21 C5,21 -1.5,12 -1,2 C-0.5,-12 7,-24.5 18,-25.5 C23.5,-26 27.5,-24 30,-21 C32,-44 47,-62 64,-62 C79,-62 92,-51 95.5,-38 C97,-33 99.5,-30 101,-27.5 C104,-32 109,-34 114,-33.5 C125,-32 131,-17 130,-4 C129,10 122,20.5 112,20.5 Z" fill="#c9ced7"/></g><g transform="translate(8.04 -4.50)"><path transform="matrix(1 0.52 0 1 283 541.4)" d="M15,21 C5,21 -1.5,12 -1,2 C-0.5,-12 7,-24.5 18,-25.5 C23.5,-26 27.5,-24 30,-21 C32,-44 47,-62 64,-62 C79,-62 92,-51 95.5,-38 C97,-33 99.5,-30 101,-27.5 C104,-32 109,-34 114,-33.5 C125,-32 131,-17 130,-4 C129,10 122,20.5 112,20.5 Z" fill="#c9ced7"/></g><g transform="translate(7.14 -4.00)"><path transform="matrix(1 0.52 0 1 283 541.4)" d="M15,21 C5,21 -1.5,12 -1,2 C-0.5,-12 7,-24.5 18,-25.5 C23.5,-26 27.5,-24 30,-21 C32,-44 47,-62 64,-62 C79,-62 92,-51 95.5,-38 C97,-33 99.5,-30 101,-27.5 C104,-32 109,-34 114,-33.5 C125,-32 131,-17 130,-4 C129,10 122,20.5 112,20.5 Z" fill="#c9ced7"/></g><g transform="translate(6.25 -3.50)"><path transform="matrix(1 0.52 0 1 283 541.4)" d="M15,21 C5,21 -1.5,12 -1,2 C-0.5,-12 7,-24.5 18,-25.5 C23.5,-26 27.5,-24 30,-21 C32,-44 47,-62 64,-62 C79,-62 92,-51 95.5,-38 C97,-33 99.5,-30 101,-27.5 C104,-32 109,-34 114,-33.5 C125,-32 131,-17 130,-4 C129,10 122,20.5 112,20.5 Z" fill="#c9ced7"/></g><g transform="translate(5.36 -3.00)"><path transform="matrix(1 0.52 0 1 283 541.4)" d="M15,21 C5,21 -1.5,12 -1,2 C-0.5,-12 7,-24.5 18,-25.5 C23.5,-26 27.5,-24 30,-21 C32,-44 47,-62 64,-62 C79,-62 92,-51 95.5,-38 C97,-33 99.5,-30 101,-27.5 C104,-32 109,-34 114,-33.5 C125,-32 131,-17 130,-4 C129,10 122,20.5 112,20.5 Z" fill="#c9ced7"/></g><g transform="translate(4.46 -2.50)"><path transform="matrix(1 0.52 0 1 283 541.4)" d="M15,21 C5,21 -1.5,12 -1,2 C-0.5,-12 7,-24.5 18,-25.5 C23.5,-26 27.5,-24 30,-21 C32,-44 47,-62 64,-62 C79,-62 92,-51 95.5,-38 C97,-33 99.5,-30 101,-27.5 C104,-32 109,-34 114,-33.5 C125,-32 131,-17 130,-4 C129,10 122,20.5 112,20.5 Z" fill="#c9ced7"/></g><g transform="translate(3.57 -2.00)"><path transform="matrix(1 0.52 0 1 283 541.4)" d="M15,21 C5,21 -1.5,12 -1,2 C-0.5,-12 7,-24.5 18,-25.5 C23.5,-26 27.5,-24 30,-21 C32,-44 47,-62 64,-62 C79,-62 92,-51 95.5,-38 C97,-33 99.5,-30 101,-27.5 C104,-32 109,-34 114,-33.5 C125,-32 131,-17 130,-4 C129,10 122,20.5 112,20.5 Z" fill="#c9ced7"/></g><g transform="translate(2.68 -1.50)"><path transform="matrix(1 0.52 0 1 283 541.4)" d="M15,21 C5,21 -1.5,12 -1,2 C-0.5,-12 7,-24.5 18,-25.5 C23.5,-26 27.5,-24 30,-21 C32,-44 47,-62 64,-62 C79,-62 92,-51 95.5,-38 C97,-33 99.5,-30 101,-27.5 C104,-32 109,-34 114,-33.5 C125,-32 131,-17 130,-4 C129,10 122,20.5 112,20.5 Z" fill="#c9ced7"/></g><g transform="translate(1.79 -1.00)"><path transform="matrix(1 0.52 0 1 283 541.4)" d="M15,21 C5,21 -1.5,12 -1,2 C-0.5,-12 7,-24.5 18,-25.5 C23.5,-26 27.5,-24 30,-21 C32,-44 47,-62 64,-62 C79,-62 92,-51 95.5,-38 C97,-33 99.5,-30 101,-27.5 C104,-32 109,-34 114,-33.5 C125,-32 131,-17 130,-4 C129,10 122,20.5 112,20.5 Z" fill="#c9ced7"/></g><g transform="translate(0.89 -0.50)"><path transform="matrix(1 0.52 0 1 283 541.4)" d="M15,21 C5,21 -1.5,12 -1,2 C-0.5,-12 7,-24.5 18,-25.5 C23.5,-26 27.5,-24 30,-21 C32,-44 47,-62 64,-62 C79,-62 92,-51 95.5,-38 C97,-33 99.5,-30 101,-27.5 C104,-32 109,-34 114,-33.5 C125,-32 131,-17 130,-4 C129,10 122,20.5 112,20.5 Z" fill="#c9ced7"/></g><g transform="translate(12.5 -7)"><path transform="matrix(1 0.52 0 1 283 541.4)" d="M15,21 C5,21 -1.5,12 -1,2 C-0.5,-12 7,-24.5 18,-25.5 C23.5,-26 27.5,-24 30,-21 C32,-44 47,-62 64,-62 C79,-62 92,-51 95.5,-38 C97,-33 99.5,-30 101,-27.5 C104,-32 109,-34 114,-33.5 C125,-32 131,-17 130,-4 C129,10 122,20.5 112,20.5 Z" fill="none" stroke="#111827" stroke-width="2.6"/></g><path transform="matrix(1 0.52 0 1 283 541.4)" d="M15,21 C5,21 -1.5,12 -1,2 C-0.5,-12 7,-24.5 18,-25.5 C23.5,-26 27.5,-24 30,-21 C32,-44 47,-62 64,-62 C79,-62 92,-51 95.5,-38 C97,-33 99.5,-30 101,-27.5 C104,-32 109,-34 114,-33.5 C125,-32 131,-17 130,-4 C129,10 122,20.5 112,20.5 Z" fill="#fbfcfd" stroke="#111827" stroke-width="2.6"/>
<polygon points="336.5,603.3 354.7,638.4 343.5,634.9 343.5,668.5 328.8,661.5 328.8,625.1 318.9,620.9" fill="#3b86d0" stroke="none" stroke-width="0" stroke-linejoin="round" filter="url(#halo)"/>
<path d="M902.7,556.5L908.0,553.5Q911.5,551.5 911.5,555.5L911.5,720.0Q911.5,725.0 907.2,727.5L902.7,730.0Q901.0,731.0 901.0,729.0L901.0,559.5Q901.0,557.5 902.7,556.5Z" fill="#172033" stroke="#111827" stroke-width="2.6" stroke-linejoin="round" /><path d="M831.7,520.0L836.2,517.5Q840.5,515.0 844.9,517.3L907.9,549.7Q911.5,551.5 908.0,553.5L902.7,556.5Q901.0,557.5 899.2,556.6L831.8,521.9Q830.0,521.0 831.7,520.0Z" fill="#f7f8fa" stroke="#111827" stroke-width="2.6" stroke-linejoin="round" /><path d="M835.3,523.7L895.7,554.8Q901.0,557.5 901.0,563.5L901.0,725.0Q901.0,731.0 895.7,728.2L835.3,696.8Q830.0,694.0 830.0,688.0L830.0,527.0Q830.0,521.0 835.3,523.7Z" fill="#fbfcfd" stroke="#111827" stroke-width="2.6" stroke-linejoin="round" /><polygon points="836.0,537.0 897.5,570.5 897.5,707.0 836.0,674.0" fill="#3d88cc" stroke="#0f1a2e" stroke-width="2" stroke-linejoin="round" /><line x1="857.5" y1="540.5" x2="876.5" y2="550.5" stroke="#111827" stroke-width="2.6" stroke-linecap="round"/><ellipse cx="866" cy="702.7" rx="5.2" ry="6.6" fill="#c9d6e6" stroke="#111827" stroke-width="1.8"/><line x1="907.5" y1="589" x2="907.5" y2="601" stroke="#e8ecf2" stroke-width="1.8"/><line x1="907.5" y1="611" x2="907.5" y2="623" stroke="#e8ecf2" stroke-width="1.8"/><path transform="matrix(0.39 0.215 0 0.41 840.3 612.5)" d="M15,21 C5,21 -1.5,12 -1,2 C-0.5,-12 7,-24.5 18,-25.5 C23.5,-26 27.5,-24 30,-21 C32,-44 47,-62 64,-62 C79,-62 92,-51 95.5,-38 C97,-33 99.5,-30 101,-27.5 C104,-32 109,-34 114,-33.5 C125,-32 131,-17 130,-4 C129,10 122,20.5 112,20.5 Z" fill="#fdfeff"/><polygon points="863.0,640.0 869.5,643.5 869.5,656.0 863.0,652.5" fill="#fdfeff" stroke="none" stroke-width="0" stroke-linejoin="round" />
</svg></body></html>
